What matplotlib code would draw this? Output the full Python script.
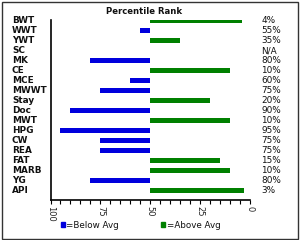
import matplotlib
matplotlib.use("Agg")
import matplotlib.pyplot as plt
from matplotlib.patches import Rectangle
import matplotlib.transforms as mtransforms

categories = ["BWT", "WWT", "YWT", "SC", "MK", "CE", "MCE", "MWWT", "Stay", "Doc",
              "MWT", "HPG", "CW", "REA", "FAT", "MARB", "YG", "API"]
percentiles = [4, 55, 35, None, 80, 10, 60, 75, 20, 90, 10, 95, 75, 75, 15, 10, 80, 3]
rank_labels = ["4%", "55%", "35%", "N/A", "80%", "10%", "60%", "75%", "20%", "90%",
               "10%", "95%", "75%", "75%", "15%", "10%", "80%", "3%"]
average = 50
x_ticks = [100, 75, 50, 25, 0]

BLUE = "#0000DD"
GREEN = "#008000"

plt.rcParams['font.family'] = ['DejaVu Sans']
fig = plt.figure(figsize=(3.0, 2.4), dpi=100)
W, H = 300, 240
ax = fig.add_axes([50.5 / W, 1 - 200 / H, (250 - 50.5) / W, (200 - 19.5) / H])

for i, v in enumerate(percentiles):
    if v is None:
        continue
    if v > average:
        ax.barh(i, v - average, left=average, height=0.45, color=BLUE, linewidth=0)
    else:
        ax.barh(i, average - v, left=v, height=0.45, color=GREEN, linewidth=0)

ax.set_xlim(100, 0)
ax.set_ylim(len(categories) - 0.05, -0.1)
ax.set_xticks(x_ticks)
ax.set_xticklabels([str(t) for t in x_ticks], rotation=-90, fontsize=6, color="#222222")
ax.set_xticks(range(0, 101, 5), minor=True)
ax.tick_params(axis='x', which='both', direction='out', length=3, width=0.8, pad=1)
ax.set_yticks([])
for s in ['top', 'right']:
    ax.spines[s].set_visible(False)
for s in ['left', 'bottom']:
    ax.spines[s].set_linewidth(1.2)
    ax.spines[s].set_color('black')

trans_l = mtransforms.blended_transform_factory(fig.transFigure, ax.transData)
for i, c in enumerate(categories):
    ax.text(12 / W, i, c, transform=trans_l, ha='left', va='center',
            fontsize=6.4, fontweight='bold', color='#111111')
for i, t in enumerate(rank_labels):
    ax.text(261.5 / W, i, t, transform=trans_l, ha='left', va='center',
            fontsize=6.4, color='#111111')

fig.text(144 / W, 1 - 11.5 / H, "Percentile Rank", ha='center', va='center',
         fontsize=6.1, fontweight='bold', color='#111111')

# legend
fig.patches.append(Rectangle((60.5 / W, 1 - 226.5 / H), 4 / W, 4.5 / H,
                             transform=fig.transFigure, color=BLUE))
fig.text(66.5 / W, 1 - 225 / H, "=Below Avg", ha='left', va='center', fontsize=6.3, color='#111111')
fig.patches.append(Rectangle((160.5 / W, 1 - 226.5 / H), 4 / W, 4.5 / H,
                             transform=fig.transFigure, color=GREEN))
fig.text(166.5 / W, 1 - 225 / H, "=Above Avg", ha='left', va='center', fontsize=6.3, color='#111111')

# outer border
fig.patches.append(Rectangle((1.5 / W, 1.5 / H), 296 / W, 236.5 / H, transform=fig.transFigure,
                             fill=False, edgecolor='#333333', linewidth=1))

fig.savefig("out.png", dpi=100)
